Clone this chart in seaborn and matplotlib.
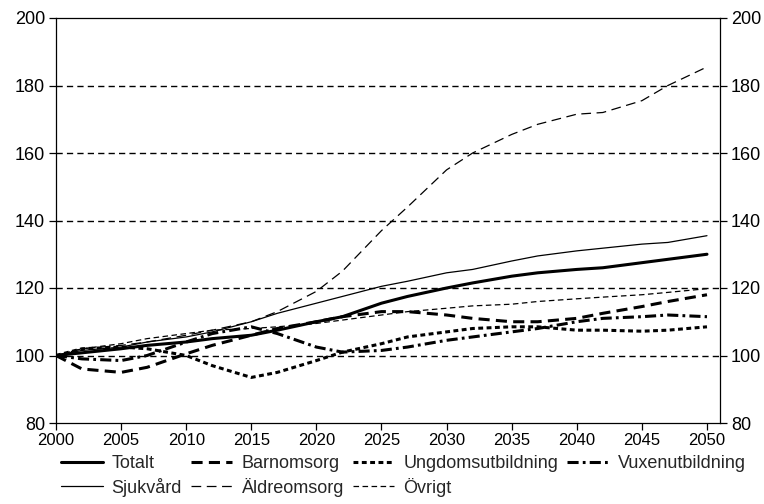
import pandas as pd
import numpy as np
import matplotlib
matplotlib.use('Agg')
import matplotlib.pyplot as plt
from matplotlib import font_manager
import seaborn as sns

# Index values (2000 = 100)
years = [2000, 2002, 2005, 2007, 2010, 2012, 2015, 2017, 2020, 2022, 2025,
         2027, 2030, 2032, 2035, 2037, 2040, 2042, 2045, 2047, 2050]

totalt = [100, 100.8, 102, 103, 104, 105, 106, 107.5, 110, 111.5, 115.5,
          117.5, 120, 121.5, 123.5, 124.5, 125.5, 126, 127.5, 128.5, 130]
barnomsorg = [100, 96, 95, 96.5, 100.5, 103, 106, 108, 110, 111.5, 113,
              113, 112, 111, 110, 110, 111, 112.5, 114.5, 116, 118]
ungdomsutbildning = [100, 102, 102.5, 102, 100, 97, 93.5, 95, 98.5, 101, 103.5,
                     105.5, 107, 108, 108.5, 108.5, 107.5, 107.5, 107.2, 107.5, 108.5]
vuxenutbildning = [100, 99, 98.5, 100, 104, 106.5, 108.5, 106.5, 102.5, 101, 101.5,
                   102.5, 104.5, 105.5, 107, 108, 110, 111, 111.5, 112, 111.5]
sjukvard = [100, 101.5, 102.5, 104, 105.5, 107, 110, 112.5, 115.5, 117.5, 120.5,
            122, 124.5, 125.5, 128, 129.5, 131, 131.8, 133, 133.5, 135.5]
aldreomsorg = [100, 102, 103, 104, 106, 107.5, 110, 113, 119, 125, 137,
               144, 155, 160, 165.5, 168.5, 171.5, 172, 175.5, 180, 185.5]
ovrigt = [100, 102, 103.5, 105, 106.5, 107.5, 108, 108.5, 109.5, 110.5, 112,
          113, 114, 114.7, 115.2, 116, 116.8, 117.3, 118, 118.7, 119.8]

series_names = ['Totalt', 'Barnomsorg', 'Ungdomsutbildning', 'Vuxenutbildning',
                'Sjukvård', 'Äldreomsorg', 'Övrigt']
series_values = [totalt, barnomsorg, ungdomsutbildning, vuxenutbildning,
                 sjukvard, aldreomsorg, ovrigt]

# line styles: (linewidth, linestyle)
styles = {
    'Totalt': (2.2, '-'),
    'Barnomsorg': (2.2, (0, (8, 4.5))),
    'Ungdomsutbildning': (2.2, (0, (3.5, 2.5))),
    'Vuxenutbildning': (2.2, (0, (8, 3, 2, 3))),
    'Sjukvård': (0.9, '-'),
    'Äldreomsorg': (0.9, (0, (7, 4))),
    'Övrigt': (0.9, (0, (4, 2.5))),
}

sns.set_style('white')
plt.rcParams['font.family'] = ['Liberation Sans', 'DejaVu Sans']
plt.rcParams['lines.scale_dashes'] = False

# narrow face for the year labels, if there is one
installed = {f.name for f in font_manager.fontManager.ttflist}
narrow = 'Liberation Sans Narrow' if 'Liberation Sans Narrow' in installed else 'Liberation Sans'

fig = plt.figure(figsize=(7.64, 5.04), dpi=100)
ax = fig.add_axes([56 / 764, 1 - 423 / 504, 664 / 764, 405 / 504])

for name, vals in zip(series_names, series_values):
    lw, ls = styles[name]
    sns.lineplot(x=years, y=vals, ax=ax, color='black', linewidth=lw,
                 linestyle=ls, label=name)

ax.set_xlim(2000, 2051)
ax.set_ylim(80, 200)
ax.set_xticks(range(2000, 2051, 5))
ax.set_yticks(range(80, 201, 20))
for v in range(100, 200, 20):
    ax.axhline(v, color='black', linewidth=1.0, linestyle=(0, (4.5, 3)), zorder=0)

for side in ['left', 'right', 'top', 'bottom']:
    ax.spines[side].set_color('black')
    ax.spines[side].set_linewidth(0.9)

ax.tick_params(axis='both', direction='out', length=5, width=0.9,
               color='black', labelcolor='black')
ax.tick_params(axis='y', left=True, right=True, labelleft=True, labelright=True,
               pad=3, labelsize=13)
ax.tick_params(axis='x', bottom=True, pad=2)
for lbl in ax.get_xticklabels():
    lbl.set_fontfamily(narrow)
    lbl.set_fontsize(13 if narrow == 'Liberation Sans Narrow' else 12)
ax.set_xlabel('')
ax.set_ylabel('')

handles, labels = ax.get_legend_handles_labels()
ax.get_legend().remove()
order = [0, 4, 1, 5, 2, 6, 3]
fig.legend([handles[i] for i in order], [labels[i] for i in order],
           loc='upper left', bbox_to_anchor=(61 / 764, 1 - 455 / 504),
           ncol=4, frameon=False, fontsize=13, handlelength=2.3,
           handletextpad=0.5, columnspacing=0.5, labelspacing=0.32,
           borderaxespad=0, borderpad=0)

fig.savefig('out.png', dpi=100)
